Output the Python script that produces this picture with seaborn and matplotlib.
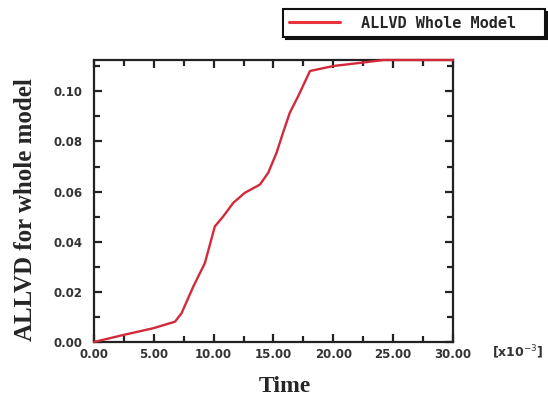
import matplotlib
matplotlib.use("Agg")
import matplotlib.pyplot as plt
from matplotlib.ticker import MultipleLocator, FixedLocator
import seaborn as sns
import pandas as pd

# Time (x10^-3) and ALLVD energy for the whole model
time_vals = [0.0, 2.45, 4.96, 6.77, 7.32, 8.3, 9.27, 10.1, 10.8, 11.64, 12.6,
             13.87, 14.56, 15.26, 15.8, 16.37, 17.07, 18.05, 20.0, 22.5, 24.2, 30.0]
allvd_vals = [0.0, 0.0028, 0.0055, 0.0081, 0.0115, 0.0221, 0.0315, 0.0461, 0.0501,
              0.0555, 0.0595, 0.0628, 0.0675, 0.0755, 0.0835, 0.0915, 0.0981,
              0.1081, 0.1101, 0.1115, 0.1125, 0.1125]
x_ticks = [0, 5, 10, 15, 20, 25, 30]
x_tick_labels = ["0.00", "5.00", "10.00", "15.00", "20.00", "25.00", "30.00"]
y_ticks = [0.0, 0.02, 0.04, 0.06, 0.08, 0.10]
y_tick_labels = ["0.00", "0.02", "0.04", "0.06", "0.08", "0.10"]
series_name = "ALLVD Whole Model"

df = pd.DataFrame({"Time": time_vals, "ALLVD": allvd_vals})

sns.set_style("ticks")
fig = plt.figure(figsize=(5.48, 4.0), dpi=100)
ax = fig.add_axes([0.1715, 0.145, 0.655, 0.705])

sns.lineplot(data=df, x="Time", y="ALLVD", ax=ax, color="#d22a3a",
             linewidth=1.7, label=series_name, legend=False)
for ln in ax.get_lines():
    ln.set_clip_on(False)
    ln.set_zorder(5)

ax.set_xlim(0, 30)
ax.set_ylim(0, 0.1125)
ax.xaxis.set_major_locator(FixedLocator(x_ticks))
ax.set_xticklabels(x_tick_labels)
ax.xaxis.set_minor_locator(MultipleLocator(2.5))
ax.yaxis.set_major_locator(FixedLocator(y_ticks))
ax.set_yticklabels(y_tick_labels)
ax.yaxis.set_minor_locator(MultipleLocator(0.01))

ax.tick_params(which="both", direction="in", top=True, right=True, width=1.6,
               colors="#222222")
ax.tick_params(which="major", length=6, labelsize=8.5)
ax.tick_params(which="minor", length=4)
ax.tick_params(axis="x", which="major", pad=4)
ax.tick_params(axis="y", which="major", pad=8)
for lbl in ax.get_xticklabels() + ax.get_yticklabels():
    lbl.set_fontweight("bold")
    lbl.set_color("#333333")
for sp in ax.spines.values():
    sp.set_linewidth(1.6)
    sp.set_color("#222222")

ax.set_xlabel("")
ax.set_ylabel("")
fig.text(0.52, 0.035, "Time", ha="center", va="center", fontsize=17,
         fontweight="bold", family="Liberation Serif")
fig.text(0.047, 0.475, "ALLVD for whole model", ha="center", va="center",
         rotation=90, fontsize=18, fontweight="bold", family="Liberation Serif")
fig.text(0.945, 0.119, "[x10$^{-3}$]", ha="center", va="center", fontsize=9,
         fontweight="bold", color="#333333")

# Legend box in the top right corner
leg = fig.legend(handles=ax.get_lines(), labels=[series_name],
                 loc="center", bbox_to_anchor=(283 / 548, 1 - 37 / 400,
                                               (545 - 283) / 548, 28 / 400),
                 mode="expand", frameon=True, fancybox=False,
                 shadow={"color": "#111111", "alpha": 1.0},
                 prop={"family": "DejaVu Sans Mono", "weight": "bold", "size": 11},
                 handlelength=3.3, handletextpad=1.4, borderpad=0.4,
                 borderaxespad=0.0)
leg.get_frame().set_edgecolor("#111111")
leg.get_frame().set_linewidth(1.5)
leg.get_lines()[0].set_color("#e8323c")
leg.get_lines()[0].set_linewidth(2.2)

fig.savefig("out.png", dpi=100)
